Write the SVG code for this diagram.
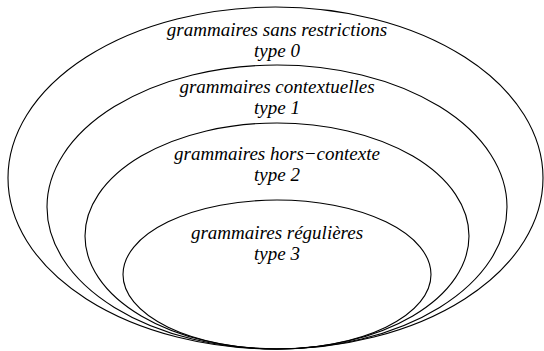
<svg xmlns="http://www.w3.org/2000/svg" width="544" height="351" viewBox="0 0 544 351">
<style>
.e{fill:none;stroke:#000;stroke-width:1.1}
.t{font-family:"Liberation Serif","Times New Roman",serif;font-style:italic;font-size:19px;text-anchor:middle;fill:#000}
</style>
<rect width="544" height="351" fill="#fff"/>
<g id="type0"><ellipse class="e" cx="275.5" cy="178" rx="267.5" ry="171"/>
<text class="t" x="277" y="35.5">grammaires sans restrictions</text><text class="t" x="277" y="56.5">type 0</text></g>
<g id="type1"><ellipse class="e" cx="277" cy="207" rx="230" ry="142"/>
<text class="t" x="277" y="93.3">grammaires contextuelles</text><text class="t" x="277" y="114.3">type 1</text></g>
<g id="type2"><ellipse class="e" cx="277" cy="236" rx="192" ry="113"/>
<text class="t" x="277" y="160.3">grammaires hors−contexte</text><text class="t" x="277" y="181.3">type 2</text></g>
<g id="type3"><ellipse class="e" cx="277" cy="274.5" rx="154" ry="74.5"/>
<text class="t" x="277" y="238.5">grammaires régulières</text><text class="t" x="277" y="259.5">type 3</text></g>
</svg>
